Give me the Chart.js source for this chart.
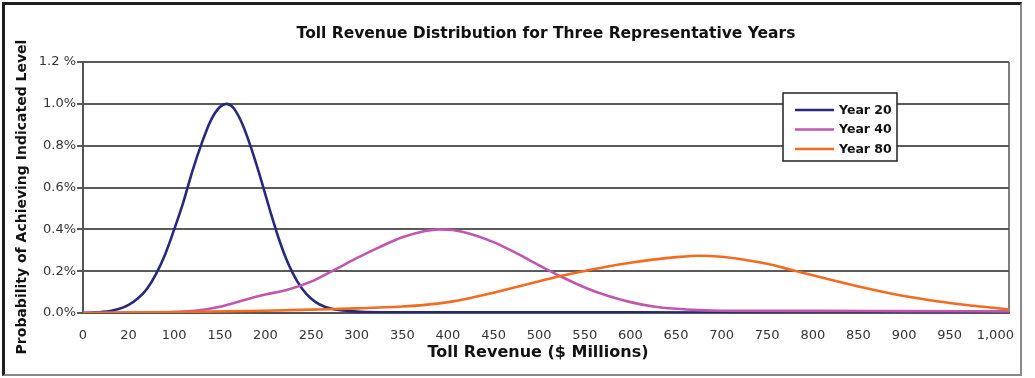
<!DOCTYPE html>
<html>
<head>
<meta charset="utf-8">
<script src="https://cdn.jsdelivr.net/npm/chart.js@4.4.0/dist/chart.umd.min.js"></script>
<style>
  html, body { margin: 0; padding: 0; background: #fff; }
  #wrap { position: relative; width: 1035px; height: 378px; }
  #frame {
    position: absolute; left: 2px; top: 2px; width: 1015px; height: 369px;
    border-top: 3px solid #1e1e1e; border-left: 3px solid #1e1e1e;
    border-right: 2px solid #8a8a8a; border-bottom: 2px solid #8a8a8a;
    pointer-events: none;
  }
  canvas { position: absolute; left: 0; top: 0; }
</style>
</head>
<body>
<div id="wrap">
  <canvas id="tollChart" width="1035" height="378"></canvas>
  <div id="frame"></div>
</div>
<script>
// tick labels on the revenue axis (as printed, every 50)
const xTickLabels = ['0', '20', '100', '150', '200', '250', '300', '350', '400', '450', '500',
  '550', '600', '650', '700', '750', '800', '850', '900', '950', '1,000'];

// Year 20 (revenue $M, probability %)
const year20Revenue = [0, 10, 20, 30, 40, 50, 60, 70, 80, 90, 100, 110, 120, 130, 140, 150, 157,
  165, 175, 185, 195, 205, 215, 225, 235, 245, 255, 265, 275, 290, 310, 400, 600, 800, 1015];
const year20Prob = [0, 0.002, 0.005, 0.01, 0.02, 0.039, 0.069, 0.115, 0.186, 0.28, 0.40, 0.53, 0.68, 0.81, 0.92, 0.985, 1.0,
  0.98, 0.90, 0.78, 0.64, 0.49, 0.35, 0.235, 0.15, 0.09, 0.052, 0.03, 0.018, 0.01, 0.005, 0.003, 0.003, 0.002, 0.002];

// Year 40
const year40Revenue = [0, 50, 100, 125, 150, 175, 200, 225, 250, 275, 300, 325, 350, 375, 390, 405,
  425, 450, 475, 500, 525, 550, 575, 600, 625, 650, 675, 700, 800, 900, 1015];
const year40Prob = [0, 0.002, 0.005, 0.012, 0.03, 0.06, 0.088, 0.112, 0.15, 0.205, 0.262, 0.315, 0.362, 0.392, 0.40, 0.397,
  0.378, 0.339, 0.286, 0.228, 0.172, 0.122, 0.082, 0.052, 0.031, 0.02, 0.014, 0.011, 0.01, 0.009, 0.008];

// Year 80
const year80Revenue = [0, 100, 200, 250, 300, 350, 375, 400, 425, 450, 475, 500, 525, 550, 575, 600, 625, 650, 675,
  700, 725, 750, 775, 800, 825, 850, 875, 900, 925, 950, 975, 1000, 1015];
const year80Prob = [0, 0.004, 0.011, 0.016, 0.022, 0.031, 0.039, 0.052, 0.072, 0.097, 0.124, 0.152, 0.178, 0.201, 0.222, 0.24, 0.255, 0.267, 0.274,
  0.269, 0.255, 0.235, 0.208, 0.18, 0.153, 0.127, 0.103, 0.081, 0.063, 0.048, 0.035, 0.024, 0.017];

const seriesNames = ['Year 20', 'Year 40', 'Year 80'];
const seriesColors = ['#272a7c', '#c056b0', '#f36b21'];
const chartTitle = 'Toll Revenue Distribution for Three Representative Years';
const xTitle = 'Toll Revenue ($ Millions)';
const yTitle = 'Probability of Achieving Indicated Level';

function toPoints(xs, ys) {
  return xs.map((x, i) => ({ x: x, y: ys[i] }));
}

// legend box drawn inside the plot, top right
const boxLegend = {
  id: 'boxLegend',
  afterDraw(chart) {
    const ctx = chart.ctx;
    const left = 783, top = 93, w = 114, h = 68;
    ctx.save();
    ctx.fillStyle = '#fff';
    ctx.fillRect(left, top, w, h);
    ctx.strokeStyle = '#222';
    ctx.lineWidth = 1.5;
    ctx.strokeRect(left, top, w, h);
    ctx.font = 'bold 12.5px "DejaVu Sans"';
    ctx.textBaseline = 'middle';
    chart.data.datasets.forEach((ds, i) => {
      const y = 110 + i * 19.5;
      ctx.strokeStyle = ds.borderColor;
      ctx.lineWidth = 2.5;
      ctx.beginPath();
      ctx.moveTo(795, y);
      ctx.lineTo(834, y);
      ctx.stroke();
      ctx.fillStyle = '#111';
      ctx.fillText(ds.label, 839, y + 0.5);
    });
    ctx.restore();
  }
};

// right edge of plot area + both axis titles (placed as in the original)
const frameBits = {
  id: 'frameBits',
  beforeDatasetsDraw(chart) {
    const a = chart.chartArea;
    const ctx = chart.ctx;
    ctx.save();
    ctx.strokeStyle = '#555';
    ctx.lineWidth = 1.5;
    ctx.beginPath();
    ctx.moveTo(a.right, a.top);
    ctx.lineTo(a.right, a.bottom);
    ctx.stroke();

    ctx.fillStyle = '#111';
    ctx.textAlign = 'center';
    ctx.textBaseline = 'middle';
    ctx.font = 'bold 16px "DejaVu Sans"';
    ctx.fillText(xTitle, 538, 353);

    ctx.translate(22, 197);
    ctx.rotate(-Math.PI / 2);
    ctx.font = 'bold 14px "DejaVu Sans"';
    ctx.fillText(yTitle, 0, 0);
    ctx.restore();
  }
};

const ctx = document.getElementById('tollChart').getContext('2d');
new Chart(ctx, {
  type: 'line',
  data: {
    datasets: [
      { label: seriesNames[0], data: toPoints(year20Revenue, year20Prob), borderColor: seriesColors[0], order: 3 },
      { label: seriesNames[1], data: toPoints(year40Revenue, year40Prob), borderColor: seriesColors[1], order: 2 },
      { label: seriesNames[2], data: toPoints(year80Revenue, year80Prob), borderColor: seriesColors[2], order: 1 }
    ]
  },
  options: {
    responsive: false,
    animation: false,
    layout: { padding: { left: 0, right: 26, top: 0, bottom: 0 } },
    elements: {
      line: { borderWidth: 2.6, cubicInterpolationMode: 'monotone', fill: false },
      point: { radius: 0 }
    },
    plugins: {
      legend: { display: false },
      tooltip: { enabled: false },
      title: {
        display: true,
        fullSize: false,
        text: chartTitle,
        color: '#111',
        font: { family: '"DejaVu Sans"', size: 15.5, weight: 'bold', lineHeight: 1.2 },
        padding: { top: 25, bottom: 18.4 }
      }
    },
    scales: {
      x: {
        type: 'linear',
        min: 0,
        max: 1015,
        grid: { display: false },
        border: { display: true, color: '#555', width: 2 },
        ticks: {
          stepSize: 50,
          includeBounds: false,
          autoSkip: false,
          maxRotation: 0,
          padding: 7,
          color: '#333',
          font: { family: '"DejaVu Sans"', size: 13 },
          callback: (v) => xTickLabels[Math.round(v / 50)] ?? ''
        },
        afterFit: (scale) => { scale.height = 65; }
      },
      y: {
        min: 0,
        max: 1.2,
        grid: { color: '#5a5a5a', lineWidth: 2, tickLength: 6 },
        border: { display: true, color: '#555', width: 2 },
        ticks: {
          stepSize: 0.2,
          padding: 1,
          color: '#333',
          font: { family: '"DejaVu Sans"', size: 13 },
          callback: (v) => Math.abs(v - 1.2) < 1e-6 ? '1.2 %' : v.toFixed(1) + '%'
        },
        afterFit: (scale) => { scale.width = 83; }
      }
    }
  },
  plugins: [frameBits, boxLegend]
});
</script>
</body>
</html>
